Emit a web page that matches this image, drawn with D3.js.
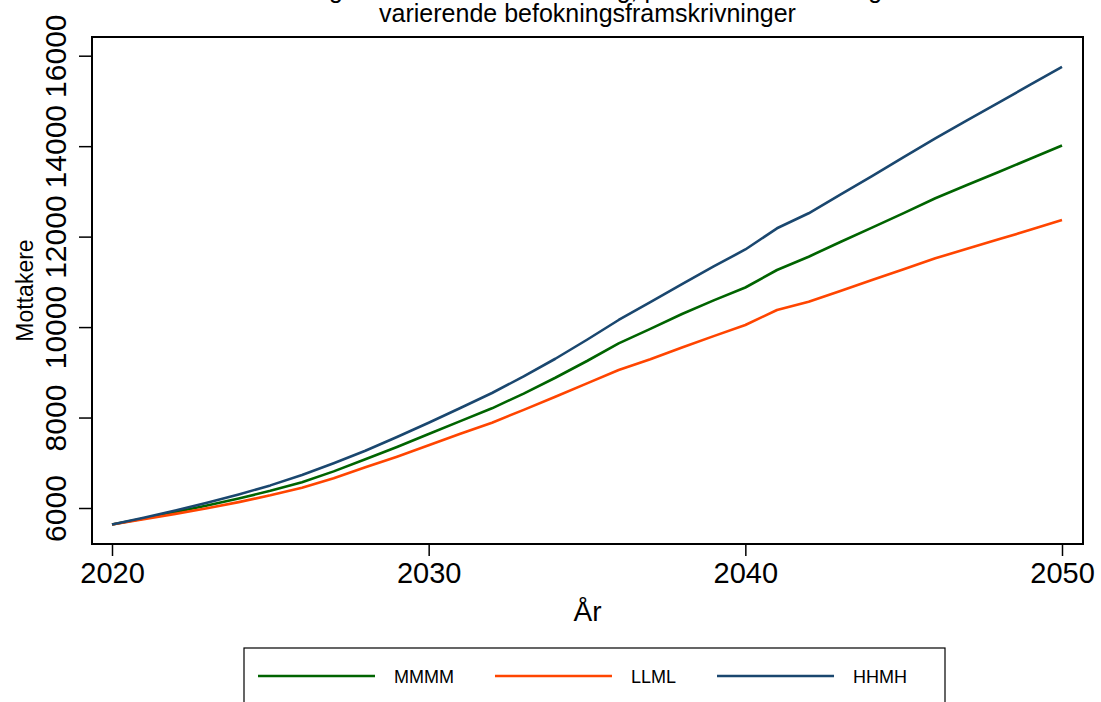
<!DOCTYPE html>
<html>
<head>
<meta charset="utf-8">
<script src="https://cdn.jsdelivr.net/npm/d3@7"></script>
<style>
  html, body { margin: 0; padding: 0; background: #fff; }
  svg { display: block; font-family: "Liberation Sans", Arial, Helvetica, sans-serif; }
</style>
</head>
<body>
<svg id="chart" width="1101" height="702"></svg>
<script>
// ---- data ----
const years = d3.range(2020, 2051);
const seriesNames = ["MMMM", "LLML", "HHMH"];
const mmmm = [5635, 5770, 5910, 6055, 6210, 6380, 6570, 6810, 7077, 7350, 7636, 7920, 8204, 8530, 8880, 9250, 9641, 9960, 10290, 10590, 10875, 11262, 11556, 11880, 12200, 12520, 12848, 13140, 13430, 13720, 14015];
const llml = [5635, 5750, 5870, 5995, 6130, 6280, 6450, 6660, 6900, 7135, 7386, 7640, 7886, 8170, 8460, 8755, 9051, 9290, 9550, 9800, 10046, 10378, 10561, 10800, 11040, 11280, 11521, 11730, 11940, 12150, 12368];
const hhmh = [5635, 5785, 5945, 6115, 6300, 6500, 6730, 6990, 7267, 7570, 7886, 8210, 8543, 8910, 9300, 9720, 10157, 10550, 10950, 11340, 11716, 12184, 12516, 12930, 13340, 13760, 14174, 14570, 14960, 15360, 15751];
const xTicks = [2020, 2030, 2040, 2050];
const yTicks = [6000, 8000, 10000, 12000, 14000, 16000];
const titleLines = ["Årlig antall mottakere i ordning, prosent av befolkning", "varierende befokningsframskrivninger"];
const xTitle = "År";
const yTitle = "Mottakere";
const colors = ["#006400", "#ff4500", "#1a476f"];

const series = [mmmm, llml, hhmh];

// ---- layout ----
const svg = d3.select("#chart");
const frame = {left: 92, right: 1083, top: 37, bottom: 544};
const x = d3.scaleLinear().domain([2020, 2050]).range([112, 1062]);
const y = d3.scaleLinear().domain([6000, 16000]).range([508, 55.7]);

// frame
svg.append("rect")
  .attr("x", frame.left).attr("y", frame.top)
  .attr("width", frame.right - frame.left).attr("height", frame.bottom - frame.top)
  .attr("fill", "none").attr("stroke", "#000").attr("stroke-width", 2);

// lines
const line = d3.line().x((d, i) => x(years[i])).y(d => y(d));
series.forEach((s, k) => {
  svg.append("path").datum(s)
    .attr("d", line)
    .attr("fill", "none")
    .attr("stroke", colors[k])
    .attr("stroke-width", 2.6)
    .attr("stroke-linejoin", "round");
});

// x axis
const xAxis = d3.axisBottom(x).tickValues(xTicks).tickFormat(d3.format("d")).tickSize(12).tickSizeOuter(0);
const gx = svg.append("g").attr("transform", `translate(0,${frame.bottom})`).call(xAxis);
gx.select(".domain").remove();
gx.selectAll(".tick line").attr("stroke", "#000").attr("stroke-width", 1.5);
gx.selectAll(".tick text").attr("fill", "#000").attr("font-size", 29).attr("y", 18).attr("dy", "0.71em")
  .attr("font-family", "Liberation Sans, Arial, sans-serif");

// y axis
const yAxis = d3.axisLeft(y).tickValues(yTicks).tickFormat(d3.format("d")).tickSize(13).tickSizeOuter(0);
const gy = svg.append("g").attr("transform", `translate(${frame.left},0)`).call(yAxis);
gy.select(".domain").remove();
gy.selectAll(".tick line").attr("stroke", "#000").attr("stroke-width", 1.5);
gy.selectAll(".tick text")
  .attr("fill", "#000").attr("font-size", 30)
  .attr("font-family", "Liberation Sans, Arial, sans-serif")
  .attr("x", null).attr("dy", null)
  .attr("text-anchor", "middle")
  .attr("transform", "translate(-26,0) rotate(-90)");

// axis titles
svg.append("text").attr("x", (frame.left + frame.right) / 2).attr("y", 621)
  .attr("text-anchor", "middle").attr("font-size", 28).attr("fill", "#000").text(xTitle);
svg.append("text").attr("transform", `translate(33,${(frame.top + frame.bottom) / 2}) rotate(-90)`)
  .attr("text-anchor", "middle").attr("font-size", 23).attr("fill", "#000").text(yTitle);

// title (first line runs off the top edge, as in the reference)
titleLines.forEach((t, i) => {
  svg.append("text").attr("x", (frame.left + frame.right) / 2).attr("y", -2 + i * 24)
    .attr("text-anchor", "middle").attr("font-size", 25).attr("fill", "#000").text(t);
});

// legend
const leg = svg.append("g");
const legBox = {x: 244, y: 648, w: 701, h: 70};
leg.append("rect").attr("x", legBox.x).attr("y", legBox.y).attr("width", legBox.w).attr("height", legBox.h)
  .attr("fill", "#fff").attr("stroke", "#000").attr("stroke-width", 1.2);
let cx = 258;
seriesNames.forEach((n, k) => {
  leg.append("line").attr("x1", cx).attr("x2", cx + 117).attr("y1", 676).attr("y2", 676)
    .attr("stroke", colors[k]).attr("stroke-width", 2.6);
  const t = leg.append("text").attr("x", cx + 136).attr("y", 683).attr("font-size", 18).attr("fill", "#000").text(n);
  const w = t.node().getComputedTextLength();
  cx = cx + 136 + w + 41;
});
</script>
</body>
</html>
